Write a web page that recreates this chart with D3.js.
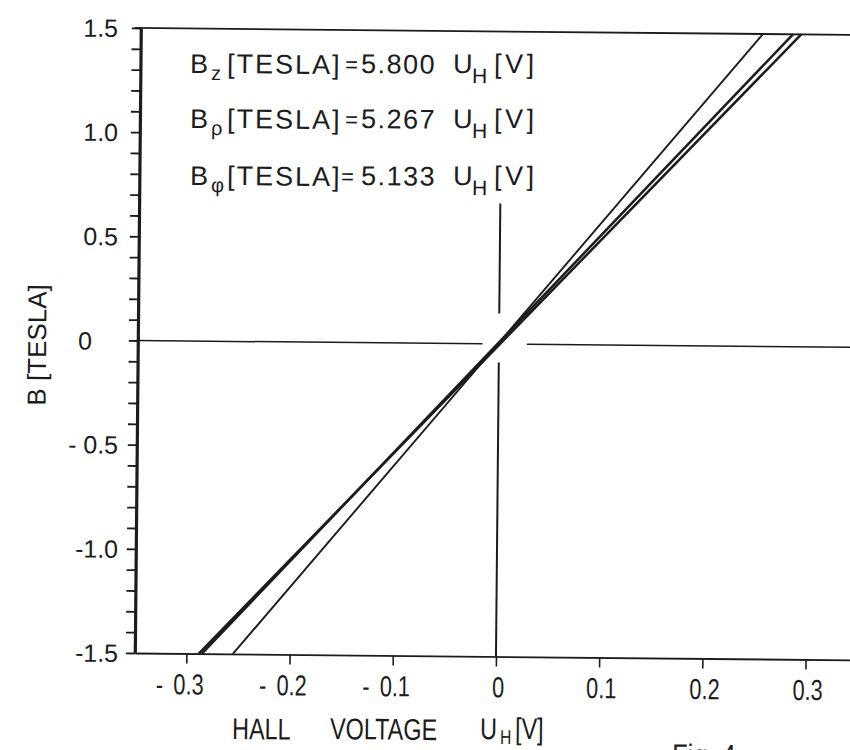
<!DOCTYPE html>
<html><head><meta charset="utf-8">
<script src="https://cdn.jsdelivr.net/npm/d3@7"></script>
<style>body{margin:0;background:#fff}svg{display:block}</style>
</head><body>
<svg id="c" width="850" height="750"></svg>
<script>
// ---------------- data ----------------
const xTickValues = [-0.3, -0.2, -0.1, 0, 0.1, 0.2, 0.3];
const xTickLabels = ["0.3", "0.2", "0.1", "0", "0.1", "0.2", "0.3"];
const yTickValues = [1.5, 1.0, 0.5, 0, -0.5, -1.0, -1.5];
const yTickLabels = ["1.5", "1.0", "0.5", "0", "- 0.5", "-1.0", "-1.5"];
const yMinorTicks = d3.range(-15, 16).map(i => i / 10);
const seriesSub = ["z", "ρ", "φ"];
const seriesCoef = ["5.800", "5.267", "5.133"];
// end points of the three lines [U_H, B]
const seriesStart = [[-0.255, -1.5], [-0.285, -1.5], [-0.288, -1.5]];
const seriesEnd = [[0.253, 1.5], [0.282, 1.5], [0.290, 1.5]];
// broken zero reference lines
const zeroHSegments = [[-0.35, -0.016], [0.027, 0.36]];   // along B = 0, U extents
const zeroVSegments = [[0.146, 0.674], [-1.5, -0.089]];   // along U = 0, B extents
const xDomain = [-0.35, 0.35];
const yDomain = [-1.5, 1.5];

// ---------------- layout ----------------
const svg = d3.select("#c");
const ink = "#1c1c1c";
const theta = 0.55, pvx = 138, pvy = 340;
const th = theta * Math.PI / 180, cs = Math.cos(th), sn = Math.sin(th);
function unrot(xv, yv) { const dx = xv - pvx, dy = yv - pvy; return [pvx + dx * cs + dy * sn, pvy - dx * sn + dy * cs]; }

const x = d3.scaleLinear().domain(xDomain).range([137.8, 860.2]);
const y = d3.scaleLinear().domain(yDomain).range([653, 28]);

const g = svg.append("g").attr("transform", `rotate(${theta},${pvx},${pvy})`);

// top frame line
g.append("line").attr("x1", x(xDomain[0]) - 6).attr("x2", 860).attr("y1", y(1.5)).attr("y2", y(1.5))
  .attr("stroke", ink).attr("stroke-width", 1.8);

// left axis with minor ticks
const yAxis = g.append("g").attr("transform", `translate(${x(xDomain[0])},0)`)
  .call(d3.axisLeft(y).tickValues(yMinorTicks).tickSize(9).tickSizeOuter(0).tickFormat(""));
yAxis.select(".domain").attr("stroke", ink).attr("stroke-width", 3.2);
yAxis.selectAll(".tick line").attr("stroke", ink).attr("stroke-width", 1.8);

// bottom axis
const xAxis = g.append("g").attr("transform", `translate(0,${y(-1.5)})`)
  .call(d3.axisBottom(x).tickValues(xTickValues).tickSize(10).tickSizeOuter(0).tickFormat(""));
xAxis.select(".domain").attr("stroke", ink).attr("stroke-width", 1.8);
xAxis.selectAll(".tick line").attr("stroke", ink).attr("stroke-width", 1.6);

// zero reference lines
g.selectAll("line.zh").data(zeroHSegments).join("line").attr("class", "zh")
  .attr("x1", d => x(d[0])).attr("x2", d => x(d[1])).attr("y1", y(0)).attr("y2", y(0))
  .attr("stroke", ink).attr("stroke-width", 1.5);
g.selectAll("line.zv").data(zeroVSegments).join("line").attr("class", "zv")
  .attr("y1", d => y(d[0])).attr("y2", d => y(d[1])).attr("x1", x(0)).attr("x2", x(0))
  .attr("stroke", ink).attr("stroke-width", 2);

// the three calibration lines
const line = d3.line().x(d => x(d[0])).y(d => y(d[1]));
g.selectAll("path.ser").data(seriesStart.map((s, i) => [s, seriesEnd[i]])).join("path")
  .attr("class", "ser").attr("d", line).attr("fill", "none")
  .attr("stroke", ink).attr("stroke-width", (d, i) => i === 0 ? 1.9 : 2.5);

// ---------------- text ----------------
const T = svg.append("g").attr("transform", `rotate(${theta},${pvx},${pvy})`).attr("fill", ink);
function txt(xv, yv, s, size, opt = {}) {
  const p = unrot(xv, yv);
  return T.append("text").attr("transform", `translate(${p[0]},${p[1]}) scale(${opt.sx || 1},1)` + (opt.rot ? ` rotate(${opt.rot})` : ""))
    .attr("font-family", opt.ff || "'Liberation Sans', Arial, sans-serif")
    .attr("font-size", size).attr("text-anchor", opt.anchor || "start")
    .attr("letter-spacing", opt.ls || 0).text(s);
}

// y tick labels
yTickValues.forEach((v, i) => {
  const lab = yTickLabels[i];
  if (v === 0) txt(78, y(v) + 9, lab, 25);
  else txt(118, y(v) + 9, lab, 25, { anchor: "end" });
});

// x tick labels (digits centred under tick, minus to the left)
xTickValues.forEach((v, i) => {
  const by = 694 + (x(v) - 138) * 0.009;
  txt(x(v) - 1, by, xTickLabels[i], 29, { anchor: "middle", sx: 0.75 });
  if (v < 0) txt(x(v) - 30, by, "-", 29, { anchor: "middle", sx: 0.75 });
});

// axis titles
txt(46, 345, "B [TESLA]", 26, { anchor: "middle", rot: -90 });
txt(232, 739, "HALL", 30, { sx: 0.78 });
txt(330, 739, "VOLTAGE", 30, { sx: 0.78 });
txt(480, 739, "U", 30, { sx: 0.78 });
txt(500, 744, "H", 20, { sx: 0.78 });
txt(515, 739, "[V]", 30, { sx: 0.78 });

// figure caption, cut by the page edge as in the scan
txt(672, 765, "Fig. 4", 30, { sx: 0.85 });

// legend equations
const rowY = [73, 128, 185];
seriesSub.forEach((s, i) => {
  const by = rowY[i];
  txt(190, by, "B", 27);
  txt(211, by + 7, s, 20);
  txt(227, by, "[TESLA]", 27, { ls: 2 });
  txt(i === 2 ? 341 : 345, by - 1, "=", 22);
  txt(361, by, seriesCoef[i], 27, { ls: 1.5 });
  txt(453, by, "U", 27);
  txt(472, by + 10, "H", 21);
  txt(494, by, "[V]", 27, { ls: 3.5 });
});
</script>
</body></html>
